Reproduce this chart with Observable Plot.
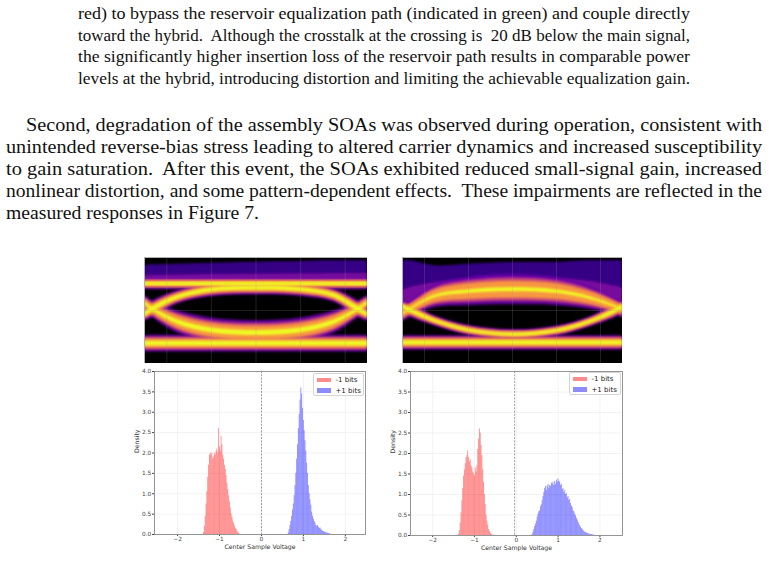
<!DOCTYPE html>
<html><head><meta charset="utf-8">
<script src="https://cdn.jsdelivr.net/npm/d3@7"></script>
<script src="https://cdn.jsdelivr.net/npm/@observablehq/plot@0.6"></script>
<style>
body{margin:0;background:#fff;}
#page{position:relative;width:769px;height:574px;overflow:hidden;background:#fff;}
.abs{position:absolute;}
.pagetext{font-family:"Liberation Serif","Times New Roman",Times,serif;}
.legend{position:absolute;background:rgba(255,255,255,0.85);border:0.8px solid #d4d4d4;border-radius:2px;font-family:"DejaVu Sans",sans-serif;font-size:7px;color:#222;box-sizing:border-box;}
.legend .row{position:absolute;left:2.5px;height:8px;display:flex;align-items:center;white-space:nowrap;}
.legend .sw{width:14px;height:4.5px;margin-right:5px;}
</style></head><body><div id="page"></div><script>
// ---------------- page text ----------------
const para1Lines = [
  "red) to bypass the reservoir equalization path (indicated in green) and couple directly",
  "toward the hybrid.  Although the crosstalk at the crossing is  20 dB below the main signal,",
  "the significantly higher insertion loss of the reservoir path results in comparable power",
  "levels at the hybrid, introducing distortion and limiting the achievable equalization gain."
];
const para2Lines = [
  "Second, degradation of the assembly SOAs was observed during operation, consistent with",
  "unintended reverse-bias stress leading to altered carrier dynamics and increased susceptibility",
  "to gain saturation.  After this event, the SOAs exhibited reduced small-signal gain, increased",
  "nonlinear distortion, and some pattern-dependent effects.  These impairments are reflected in the",
  "measured responses in Figure 7."
];

// ---------------- histogram data (density per 0.02 V bin) ----------------
const binWidth = 0.02;
const xTicks = [-2, -1, 0, 1, 2];
const yTicks = [0, 0.5, 1, 1.5, 2, 2.5, 3, 3.5, 4];
const seriesNames = ["-1 bits", "+1 bits"];

const leftNegStart = -1.38;
const leftNegDensity = [0.05,0.2,0.45,0.75,1.05,1.4,1.7,1.95,2.0,1.95,2.0,1.85,1.9,2.0,1.95,2.05,2.1,2.0,2.6,2.15,2.05,2.4,2.2,1.95,1.85,1.7,1.6,1.45,1.25,1.1,0.95,0.8,0.65,0.5,0.42,0.33,0.27,0.2,0.15,0.12,0.08,0.05,0.03];
const leftPosStart = 0.64;
const leftPosDensity = [0.04,0.12,0.22,0.32,0.45,0.6,0.75,0.95,1.2,1.5,1.85,2.2,2.6,2.95,3.3,3.6,3.45,3.1,2.8,2.55,2.3,2.05,1.75,1.5,1.2,1.0,0.85,0.72,0.55,0.45,0.38,0.32,0.28,0.22,0.2,0.22,0.18,0.15,0.16,0.12,0.1,0.08,0.07,0.06,0.05,0.04,0.04,0.03,0.02,0.02,0.01];
const leftThreshold = 0.0;

const rightNegStart = -1.38;
const rightNegDensity = [0.03,0.12,0.3,0.55,0.85,1.15,1.45,1.6,1.75,1.9,1.95,2.07,1.9,1.8,1.85,1.7,1.65,1.55,1.5,1.45,1.65,1.55,1.7,2.1,2.35,2.6,2.5,2.2,1.95,1.6,1.3,1.0,0.75,0.5,0.35,0.25,0.15,0.1,0.06,0.04,0.02];
const rightPosStart = 0.38;
const rightPosDensity = [0.03,0.08,0.15,0.22,0.28,0.35,0.45,0.52,0.58,0.6,0.7,0.75,0.85,0.95,1.05,1.15,1.2,1.1,1.2,1.25,1.15,1.22,1.2,1.28,1.25,1.3,1.22,1.32,1.25,1.35,1.3,1.38,1.32,1.3,1.22,1.25,1.12,1.15,1.05,1.1,1.0,1.02,0.92,0.95,0.85,0.88,0.78,0.72,0.68,0.6,0.58,0.52,0.48,0.42,0.38,0.32,0.28,0.24,0.2,0.17,0.14,0.12,0.1,0.08,0.07,0.06,0.05,0.04,0.035,0.03,0.025,0.02,0.015,0.01,0.01];
const rightThreshold = -0.04;

// ---------------- eye diagram data (normalized amplitude vs. time in UI) ----------------
const eyeGridT = [0.1, 0.3, 0.5, 0.7, 0.9];
const leftEyeT = [0, 0.04, 0.15, 0.3, 0.5, 0.7, 0.85, 0.955, 1];
const leftTopRail      = [0.80, 0.80, 0.80, 0.80, 0.80, 0.80, 0.80, 0.80, 0.80];
const leftTopRailHalf  = [0.10, 0.10, 0.10, 0.10, 0.10, 0.10, 0.10, 0.10, 0.10];
const leftUpperArc     = [-0.13, 0.05, 0.40, 0.62, 0.67, 0.63, 0.45, 0.05, -0.13];
const leftUpperArcHalf = [0.12, 0.15, 0.12, 0.12, 0.12, 0.12, 0.12, 0.15, 0.12];
const leftLowerArc     = [0.23, 0.02, -0.35, -0.60, -0.68, -0.60, -0.35, 0.02, 0.23];
const leftLowerArcHalf = [0.14, 0.15, 0.20, 0.22, 0.22, 0.22, 0.20, 0.15, 0.14];
const leftBottomRail     = [-1.0, -1.0, -1.0, -1.0, -1.0, -1.0, -1.0, -1.0, -1.0];
const leftBottomRailHalf = [0.15, 0.15, 0.15, 0.15, 0.15, 0.15, 0.15, 0.15, 0.15];
const leftHazeTop = [1.36, 1.38, 1.40, 1.43, 1.46, 1.48, 1.50, 1.50, 1.50];

const rightEyeT = [0, 0.036, 0.15, 0.3, 0.5, 0.7, 0.85, 0.98, 1];
const rightUpperArch     = [-0.10, 0.04, 0.43, 0.57, 0.63, 0.57, 0.38, 0.08, 0.0];
const rightUpperArchHalf = [0.15, 0.14, 0.20, 0.25, 0.27, 0.25, 0.20, 0.14, 0.15];
const rightLowerArc      = [0.12, 0.0, -0.32, -0.60, -0.73, -0.62, -0.35, 0.03, 0.12];
const rightLowerArcHalf  = [0.10, 0.12, 0.09, 0.09, 0.09, 0.09, 0.09, 0.12, 0.10];
const rightBottomRail     = [-0.98, -0.98, -0.98, -0.98, -0.98, -0.98, -0.98, -0.98, -0.98];
const rightBottomRailHalf = [0.13, 0.13, 0.13, 0.13, 0.13, 0.13, 0.13, 0.13, 0.13];
const rightHazeTop = [1.50, 1.50, 1.35, 1.40, 1.45, 1.45, 1.50, 1.50, 1.50];

// ---------------- build ----------------
const page = document.getElementById("page");

// text layer
const textSvg = d3.select(page).append("svg").attr("class","abs pagetext")
  .style("left","0px").style("top","0px").attr("width",769).attr("height",574);
const textRows = [
  ...para1Lines.map((s,i)=>({s, x:78, w:612, y:19 + i*21.6, fs:16.6})),
  ...para2Lines.map((s,i)=>({s, x: i===0 ? 26 : 6, w: i===0 ? 736 : (i===4 ? 253 : 756), y:131 + i*21.9, fs:18}))
];
textSvg.selectAll("text").data(textRows).join("text")
  .attr("x", d=>d.x).attr("y", d=>d.y)
  .attr("textLength", d=>d.w).attr("lengthAdjust","spacingAndGlyphs")
  .style("white-space","pre")
  .style("font-family","'Liberation Serif','Times New Roman',Times,serif")
  .style("font-size", d=>d.fs + "px").attr("fill","#111")
  .text(d=>d.s);

function bins(start, dens, series) {
  return dens.map((v,i)=>({x1: start + i*binWidth, x2: start + (i+1)*binWidth, y: v, series}));
}

function histPlot(neg, pos, threshold, xDomain, mr, mb) {
  return Plot.plot({
    width: 250, height: 198,
    marginLeft: 34, marginRight: mr, marginTop: 9, marginBottom: mb,
    style: {fontFamily: "'DejaVu Sans', sans-serif", background: "transparent"},
    x: {domain: xDomain, axis: null, label: null},
    y: {domain: [0, 4], axis: null, label: null},
    marks: [
      Plot.gridX(xTicks, {stroke: "#e6e6e6", strokeOpacity: 1, strokeWidth: 0.5}),
      Plot.gridY(yTicks, {stroke: "#e6e6e6", strokeOpacity: 1, strokeWidth: 0.5}),
      Plot.rectY(neg, {x1: "x1", x2: "x2", y: "y", fill: "#ff0000", fillOpacity: 0.45, inset: 0}),
      Plot.rectY(pos, {x1: "x1", x2: "x2", y: "y", fill: "#0000ff", fillOpacity: 0.45, inset: 0}),
      Plot.ruleX([threshold], {stroke: "#777", strokeWidth: 0.7, strokeDasharray: "2,1.3"}),
      Plot.axisX(xTicks, {anchor: "bottom", tickSize: 2, tickPadding: 0.8, fontSize: 5.8, color: "#444", label: null}),
      Plot.axisY(yTicks, {anchor: "left", tickSize: 2, tickPadding: 1.3, fontSize: 5.8, color: "#444", label: null, tickFormat: d => d.toFixed(1)}),
      Plot.text(["Density"], {frameAnchor: "left", dx: -17, rotate: -90, fontSize: 6.2, fill: "#333"}),
      Plot.text(["Center Sample Voltage"], {frameAnchor: "bottom", dy: 14.5, fontSize: 6.2, fill: "#333"}),
      Plot.frame({stroke: "#8a8a8a", strokeWidth: 0.9})
    ]
  });
}

const layers = [
  {color: "#6a00a8", k: 1.7, op: 0.9, lvl: 0},
  {color: "#cb4679", k: 1.3, op: 0.95, lvl: 1},
  {color: "#f89540", k: 0.95, op: 1, lvl: 2},
  {color: "#f0f921", k: 0.5, op: 1, lvl: 3}
];

function eyePlot(id, T, bands, haze, width) {
  const marks = [Plot.frame({fill: "black"})];
  const hazeRows = T.map((t,i)=>({t, y1: haze.base[i], y2: haze.top[i], y3: haze.base[i] + (haze.top[i]-haze.base[i])*0.45}));
  marks.push(Plot.areaY(hazeRows, {x: "t", y1: "y1", y2: "y2", fill: "#3f039c", fillOpacity: 0.85, curve: "catmull-rom"}));
  marks.push(Plot.areaY(hazeRows, {x: "t", y1: "y1", y2: "y3", fill: "#8b0aa5", fillOpacity: 0.75, curve: "catmull-rom"}));
  for (const L of layers) {
    for (const b of bands) {
      if (L.lvl > b.peak) continue;
      const k = L.lvl === 3 ? L.k * (b.core ?? 1) : L.k;
      const rows = T.map((t,i)=>({t, y1: b.c[i] - b.h[i]*k, y2: b.c[i] + b.h[i]*k}));
      marks.push(Plot.areaY(rows, {x: "t", y1: "y1", y2: "y2", fill: L.color, fillOpacity: L.op, curve: "catmull-rom"}));
    }
  }
  marks.push(Plot.gridX(eyeGridT, {stroke: "#9a9a9a", strokeOpacity: 0.35, strokeWidth: 0.6}));
  marks.push(Plot.gridY([0], {stroke: "#9a9a9a", strokeOpacity: 0.35, strokeWidth: 0.6}));
  marks.push(Plot.frame({stroke: "#b0b0b0", strokeWidth: 1}));
  const svg = Plot.plot({
    width, height: 106, margin: 0,
    x: {domain: [0, 1], axis: null},
    y: {domain: [-1.6, 1.6], axis: null},
    style: {background: "transparent"},
    marks
  });
  // soften the density bands (styling only)
  const s = d3.select(svg);
  s.insert("defs", ":first-child").append("filter").attr("id", id)
    .attr("x", "-5%").attr("y", "-20%").attr("width", "110%").attr("height", "140%")
    .append("feGaussianBlur").attr("stdDeviation", 0.9);
  s.selectAll('g[aria-label="area"]').attr("filter", `url(#${id})`);
  return svg;
}

function place(node, left, top) {
  node.classList.add("abs");
  node.style.left = left + "px";
  node.style.top = top + "px";
  page.appendChild(node);
}

place(eyePlot("blurL", leftEyeT, [
  {c: leftTopRail, h: leftTopRailHalf, peak: 3},
  {c: leftUpperArc, h: leftUpperArcHalf, peak: 3},
  {c: leftLowerArc, h: leftLowerArcHalf, peak: 3, core: 0.7},
  {c: leftBottomRail, h: leftBottomRailHalf, peak: 3}
], {base: leftTopRail, top: leftHazeTop}, 223), 144, 257);

place(eyePlot("blurR", rightEyeT, [
  {c: rightUpperArch, h: rightUpperArchHalf, peak: 3, core: 0.45},
  {c: rightLowerArc, h: rightLowerArcHalf, peak: 3},
  {c: rightBottomRail, h: rightBottomRailHalf, peak: 3}
], {base: rightUpperArch, top: rightHazeTop}, 220), 402, 257);

place(histPlot(bins(leftNegStart, leftNegDensity, seriesNames[0]), bins(leftPosStart, leftPosDensity, seriesNames[1]), leftThreshold, [-2.55, 2.48], 5, 26), 120, 362);
place(histPlot(bins(rightNegStart, rightNegDensity, seriesNames[0]), bins(rightPosStart, rightPosDensity, seriesNames[1]), rightThreshold, [-2.53, 2.54], 4, 25), 376, 362);

function legend(left, top, w) {
  const div = document.createElement("div");
  div.className = "legend";
  Object.assign(div.style, {left: left + "px", top: top + "px", width: w + "px", height: "23px"});
  const colors = ["rgba(255,0,0,0.45)", "rgba(0,0,255,0.45)"];
  seriesNames.forEach((name, i) => {
    const r = document.createElement("div");
    r.className = "row";
    r.style.top = (2 + i*10.5) + "px";
    r.innerHTML = `<span class="sw" style="background:${colors[i]}"></span><span>${name}</span>`;
    div.appendChild(r);
  });
  page.appendChild(div);
}
legend(313, 373, 51);
legend(569, 372, 52);
</script></body></html>
